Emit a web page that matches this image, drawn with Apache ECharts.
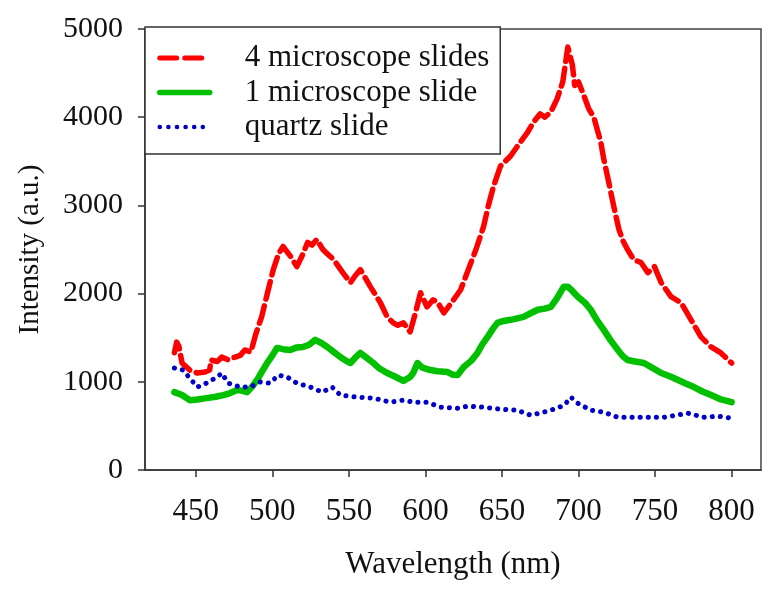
<!DOCTYPE html>
<html>
<head>
<meta charset="utf-8">
<script src="https://cdn.jsdelivr.net/npm/echarts@6/dist/echarts.min.js"></script>
<style>
  html, body { margin: 0; padding: 0; background: #fff; }
  #main { width: 782px; height: 591px; }
</style>
</head>
<body>
<div id="main"></div>
<script>
// wavelength (nm) / intensity (a.u.)
const redX = [436, 437.5, 439, 441, 446, 451, 456, 459, 460, 464, 467, 471, 475.7, 479, 482, 486, 489, 493, 497, 500.6, 504, 507, 512, 516, 520, 523, 526, 529, 533, 536, 540, 546, 551, 554, 557.5, 564, 570.6, 575, 579, 582, 585.6, 590, 593.5, 596.8, 601, 605, 608, 612, 615, 618.4, 623, 628, 633, 638, 641, 644.5, 649, 655.6, 662, 666.8, 670.7, 675, 678, 681.9, 686, 689.7, 691.6, 693, 696, 697.5, 700, 703.5, 706.7, 710, 714.5, 716.5, 719.8, 723, 726.4, 729, 732, 736, 740.8, 745.3, 749.6, 754, 760.4, 767, 773.5, 780, 786.6, 793, 800]
const redY = [1330, 1450, 1400, 1213, 1133, 1099, 1110, 1133, 1247, 1230, 1280, 1250, 1281, 1300, 1361, 1338, 1532, 1737, 2021, 2272, 2450, 2534, 2420, 2306, 2450, 2580, 2550, 2614, 2500, 2450, 2386, 2238, 2124, 2200, 2272, 2079, 1896, 1737, 1668, 1640, 1668, 1566, 1782, 2010, 1850, 1930, 1900, 1782, 1850, 1930, 2044, 2272, 2500, 2762, 2990, 3218, 3445, 3560, 3718, 3832, 3946, 4038, 4000, 4060, 4208, 4400, 4625, 4795, 4590, 4360, 4400, 4245, 4094, 4000, 3718, 3525, 3258, 2990, 2728, 2600, 2500, 2386, 2352, 2238, 2306, 2124, 1965, 1896, 1703, 1509, 1395, 1327, 1213]

const greenX = [436, 441, 446, 451, 457, 463, 468, 472, 477, 480, 483.5, 487, 490, 493, 496.6, 500, 503, 507, 511.7, 516, 520, 524, 528, 532, 535.9, 540, 544.4, 548, 551, 554, 557.5, 561, 566, 570, 575, 580, 585.6, 590, 592, 594.8, 598, 603.3, 608, 614.4, 618, 621, 625, 630, 634, 637, 640.6, 644, 647, 651, 655.7, 660, 664, 669, 673.4, 678, 681.9, 686, 690.4, 693, 696, 699.5, 704, 708, 712, 716.5, 721, 725.7, 729, 732, 737, 742.7, 748, 754, 760, 765, 770, 775.4, 781, 786.6, 793, 800]
const greenY = [883, 850, 792, 800, 815, 830, 849, 870, 906, 900, 883, 950, 1020, 1110, 1213, 1300, 1384, 1370, 1361, 1390, 1395, 1420, 1475, 1440, 1395, 1340, 1281, 1240, 1213, 1270, 1327, 1280, 1213, 1150, 1099, 1060, 1010, 1054, 1100, 1213, 1160, 1133, 1120, 1110, 1080, 1076, 1167, 1240, 1327, 1420, 1509, 1600, 1668, 1690, 1703, 1720, 1737, 1780, 1817, 1830, 1850, 1950, 2079, 2079, 2030, 1965, 1900, 1817, 1700, 1589, 1470, 1361, 1290, 1247, 1230, 1213, 1160, 1099, 1060, 1020, 980, 940, 890, 849, 800, 769]

const blueX = [436, 441.6, 446, 451, 457, 463.9, 467, 471, 479, 485.5, 492, 498.6, 503.8, 509.7, 516, 524.8, 532.6, 539, 544.4, 555.5, 566, 577, 585.6, 592, 601, 609.8, 621, 627.5, 638, 649, 660, 668.7, 677, 686, 691, 695, 699.5, 708, 716.5, 725.7, 736, 747.3, 755.8, 771.6, 782, 791, 800]
const blueY = [1156, 1133, 1042, 940, 985, 1054, 1099, 985, 940, 940, 997, 985, 1076, 1054, 985, 940, 883, 940, 849, 826, 815, 769, 792, 769, 769, 712, 700, 723, 712, 689, 678, 621, 655, 700, 740, 826, 757, 678, 655, 598, 598, 598, 598, 643, 598, 610, 587]

const names = ['4 microscope slides', '1 microscope slide', 'quartz slide']
const xTicks = [450, 500, 550, 600, 650, 700, 750, 800]

function zip(xs, ys) {
  return xs.map((x, i) => [x, ys[i]])
}

const serif = '"Liberation Serif", "Times New Roman", serif'
const redLine = { color: '#ff0000', width: 5.5, type: [18, 7], cap: 'round', join: 'round' }
const greenLine = { color: '#00c000', width: 6.5, cap: 'round', join: 'round' }
const blueLine = { color: '#0000c8', width: 5, type: [0.1, 8], cap: 'round' }

let myChart = echarts.init(document.getElementById('main'))

let option = {
  animation: false,
  backgroundColor: '#fff',
  grid: {
    left: 145,
    right: 21,
    top: 29,
    bottom: 121,
    show: true,
    borderColor: '#444',
    borderWidth: 1.5
  },
  legend: {
    orient: 'vertical',
    left: 145,
    top: 27,
    itemWidth: 50,
    itemHeight: 14,
    itemGap: 2.5,
    padding: [15, 11, 11, 12],
    borderColor: '#333',
    borderWidth: 1.5,
    backgroundColor: '#fff',
    data: [
      { name: names[0], lineStyle: { width: 5, type: [17, 8], cap: 'round' } },
      { name: names[1], lineStyle: { width: 5.5, cap: 'round' } },
      { name: names[2], lineStyle: { width: 4.5, type: [0.1, 8.5], cap: 'round' } }
    ],
    // hide the marker dot, keep only the line sample
    itemStyle: { opacity: 0 },
    textStyle: {
      fontFamily: serif,
      fontSize: 31,
      lineHeight: 32,
      color: '#111',
      padding: [0, 0, 0, 30]
    }
  },
  xAxis: {
    type: 'value',
    min: 416.8,
    max: 819.2,
    name: 'Wavelength (nm)',
    nameLocation: 'middle',
    nameGap: 79,
    nameTextStyle: { fontFamily: serif, fontSize: 31, color: '#111' },
    axisLine: { lineStyle: { color: '#333', width: 1.5 } },
    axisTick: { show: true, length: 7, customValues: xTicks, lineStyle: { color: '#333', width: 1.5 } },
    axisLabel: { customValues: xTicks, margin: 26, fontFamily: serif, fontSize: 31, color: '#111' },
    splitLine: { show: false }
  },
  yAxis: {
    type: 'value',
    min: 0,
    max: 5000,
    interval: 1000,
    name: 'Intensity (a.u.)',
    nameLocation: 'middle',
    nameGap: 100,
    nameTextStyle: { fontFamily: serif, fontSize: 29, color: '#111' },
    axisLine: { show: true, lineStyle: { color: '#333', width: 1.5 } },
    axisTick: { show: true, length: 7, lineStyle: { color: '#333', width: 1.5 } },
    axisLabel: {
      margin: 22,
      fontFamily: serif,
      fontSize: 30,
      color: '#111',
      formatter: v => String(v)
    },
    splitLine: { show: false }
  },
  series: [
    {
      name: names[0],
      type: 'line',
      showSymbol: false,
      symbol: 'none',
      data: zip(redX, redY),
      color: '#ff0000',
      lineStyle: redLine,
      z: 3
    },
    {
      name: names[1],
      type: 'line',
      showSymbol: false,
      symbol: 'none',
      data: zip(greenX, greenY),
      color: '#00c000',
      lineStyle: greenLine,
      z: 2
    },
    {
      name: names[2],
      type: 'line',
      showSymbol: false,
      symbol: 'none',
      data: zip(blueX, blueY),
      color: '#0000c8',
      lineStyle: blueLine,
      z: 4
    }
  ]
}

myChart.setOption(option)
</script>
</body>
</html>
